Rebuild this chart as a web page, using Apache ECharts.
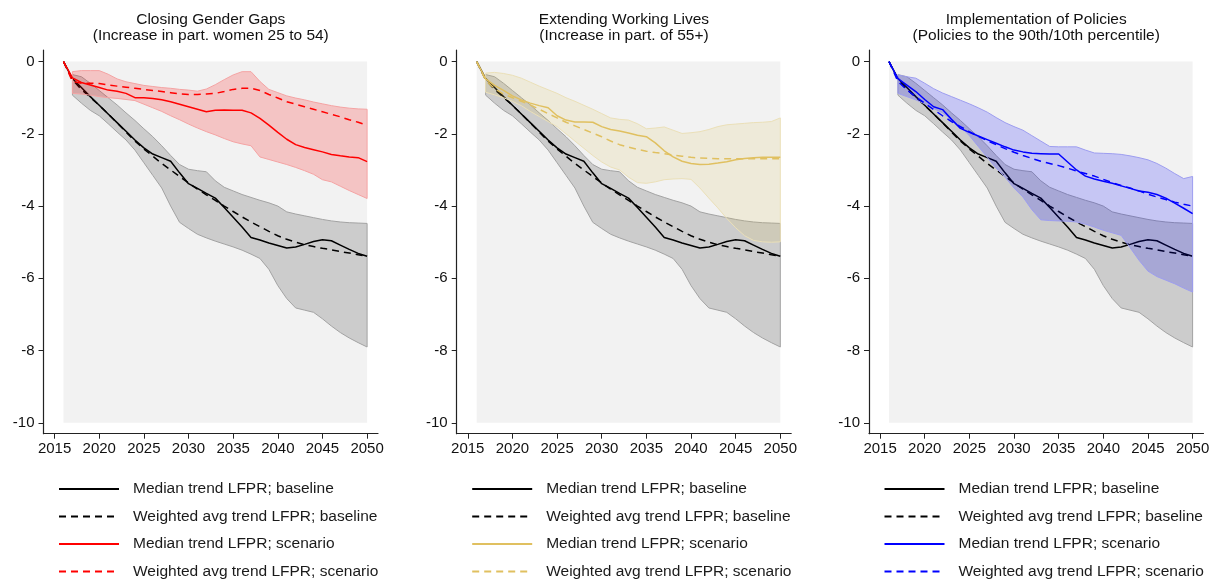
<!DOCTYPE html>
<html>
<head>
<meta charset="utf-8">
<script src="https://cdn.jsdelivr.net/npm/echarts@6/dist/echarts.min.js"></script>
<style>
  html, body { margin: 0; padding: 0; background: #fff; }
  #chart { width: 1210px; height: 580px; }
</style>
</head>
<body>
<div id="chart"></div>
<script>
const years = [2016, 2017, 2018, 2019, 2020, 2021, 2022, 2023, 2024, 2025,
  2026, 2027, 2028, 2029, 2030, 2031, 2032, 2033, 2034, 2035,
  2036, 2037, 2038, 2039, 2040, 2041, 2042, 2043, 2044, 2045,
  2046, 2047, 2048, 2049, 2050];
const xTicks = [2015, 2020, 2025, 2030, 2035, 2040, 2045, 2050];
const yTicks = [-10, -8, -6, -4, -2, 0];

// baseline (same in all three panels)
const baseMedian = [0, -0.47, -0.72, -0.97, -1.21, -1.45, -1.69, -1.93, -2.17, -2.39, -2.56, -2.66, -2.76, -3.08, -3.38, -3.51, -3.65, -3.78, -4.04, -4.31, -4.58, -4.87, -4.94, -5.02, -5.09, -5.16, -5.13, -5.06, -4.98, -4.93, -4.96, -5.08, -5.2, -5.31, -5.39];
const baseWavg = [0, -0.5, -0.77, -0.99, -1.21, -1.45, -1.7, -1.95, -2.2, -2.42, -2.62, -2.82, -3.0, -3.18, -3.36, -3.53, -3.69, -3.84, -4.0, -4.15, -4.3, -4.44, -4.57, -4.7, -4.82, -4.92, -5.0, -5.07, -5.12, -5.17, -5.21, -5.26, -5.3, -5.35, -5.39];
const baseHi = [null, -0.36, -0.42, -0.6, -0.8, -1.0, -1.2, -1.42, -1.63, -1.86, -2.08, -2.33, -2.6, -2.85, -2.98, -3.02, -3.05, -3.3, -3.48, -3.58, -3.68, -3.76, -3.84, -3.91, -4.0, -4.16, -4.22, -4.27, -4.32, -4.37, -4.41, -4.44, -4.46, -4.47, -4.48];
const baseLo = [null, -0.93, -1.15, -1.35, -1.5, -1.72, -1.95, -2.17, -2.45, -2.8, -3.15, -3.5, -4.0, -4.45, -4.62, -4.78, -4.88, -4.97, -5.05, -5.13, -5.22, -5.33, -5.45, -5.75, -6.2, -6.56, -6.82, -6.88, -6.94, -7.12, -7.32, -7.5, -7.65, -7.78, -7.9];

// scenario: closing gender gaps
const gapMedian = [0, -0.45, -0.58, -0.65, -0.72, -0.79, -0.82, -0.88, -1.0, -1.0, -1.02, -1.06, -1.11, -1.18, -1.25, -1.32, -1.39, -1.35, -1.34, -1.35, -1.35, -1.42, -1.57, -1.76, -1.96, -2.15, -2.3, -2.38, -2.44, -2.5, -2.57, -2.61, -2.64, -2.66, -2.77];
const gapWavg = [0, -0.55, -0.6, -0.6, -0.61, -0.65, -0.68, -0.71, -0.74, -0.77, -0.8, -0.83, -0.86, -0.89, -0.91, -0.91, -0.9, -0.88, -0.83, -0.77, -0.74, -0.74, -0.8, -0.91, -1.01, -1.11, -1.18, -1.25, -1.32, -1.39, -1.46, -1.53, -1.61, -1.68, -1.76];
const gapHi = [null, -0.28, -0.25, -0.25, -0.25, -0.35, -0.48, -0.56, -0.61, -0.66, -0.69, -0.72, -0.74, -0.77, -0.79, -0.82, -0.76, -0.64, -0.5, -0.37, -0.28, -0.28, -0.55, -0.77, -0.86, -0.95, -1.01, -1.06, -1.12, -1.17, -1.22, -1.26, -1.29, -1.31, -1.32];
const gapLo = [null, -0.88, -0.9, -0.93, -0.97, -1.0, -1.02, -1.05, -1.08, -1.18, -1.28, -1.38, -1.5, -1.61, -1.73, -1.84, -1.94, -2.03, -2.13, -2.22, -2.28, -2.33, -2.64, -2.71, -2.78, -2.85, -2.93, -3.02, -3.12, -3.27, -3.33, -3.45, -3.57, -3.68, -3.79];

// scenario: extending working lives
const oldMedian = [0, -0.48, -0.66, -0.8, -0.95, -1.06, -1.15, -1.22, -1.28, -1.5, -1.62, -1.67, -1.67, -1.68, -1.8, -1.88, -1.92, -1.98, -2.04, -2.08, -2.25, -2.47, -2.64, -2.76, -2.82, -2.85, -2.84, -2.81, -2.77, -2.72, -2.68, -2.66, -2.65, -2.65, -2.65];
const oldWavg = [0, -0.52, -0.75, -0.9, -1.0, -1.1, -1.2, -1.32, -1.44, -1.56, -1.68, -1.78, -1.88, -1.98, -2.08, -2.2, -2.3, -2.37, -2.43, -2.48, -2.52, -2.55, -2.59, -2.62, -2.65, -2.67, -2.68, -2.69, -2.69, -2.69, -2.69, -2.69, -2.69, -2.69, -2.69];
const oldHi = [null, -0.32, -0.3, -0.33, -0.38, -0.46, -0.57, -0.68, -0.78, -0.88, -1.0, -1.1, -1.21, -1.32, -1.44, -1.56, -1.6, -1.62, -1.72, -1.86, -1.84, -1.81, -1.9, -1.99, -1.97, -1.94, -1.88, -1.8, -1.75, -1.73, -1.71, -1.69, -1.68, -1.66, -1.56];
const oldLo = [null, -0.85, -0.92, -1.0, -1.1, -1.22, -1.38, -1.52, -1.66, -1.8, -2.0, -2.2, -2.4, -2.6, -2.78, -2.92, -3.0, -3.2, -3.35, -3.37, -3.33, -3.27, -3.25, -3.24, -3.26, -3.5, -3.78, -4.05, -4.34, -4.6, -4.82, -4.95, -4.99, -5.0, -4.99];

// scenario: implementation of policies
const polMedian = [0, -0.47, -0.65, -0.83, -1.05, -1.25, -1.33, -1.6, -1.85, -1.96, -2.06, -2.16, -2.26, -2.36, -2.45, -2.5, -2.54, -2.55, -2.56, -2.56, -2.78, -3.0, -3.17, -3.25, -3.31, -3.37, -3.44, -3.51, -3.58, -3.62, -3.68, -3.78, -3.92, -4.06, -4.21];
const polWavg = [0, -0.55, -0.78, -0.98, -1.15, -1.33, -1.5, -1.66, -1.8, -1.94, -2.07, -2.19, -2.3, -2.41, -2.51, -2.6, -2.68, -2.76, -2.82, -2.88, -2.95, -3.03, -3.1, -3.17, -3.26, -3.35, -3.43, -3.5, -3.58, -3.67, -3.75, -3.82, -3.89, -3.95, -4.0];
const polHi = [null, -0.37, -0.42, -0.46, -0.6, -0.75, -0.87, -0.97, -1.07, -1.17, -1.28, -1.4, -1.55, -1.69, -1.8, -1.9, -2.05, -2.2, -2.35, -2.36, -2.36, -2.36, -2.45, -2.53, -2.54, -2.55, -2.57, -2.61, -2.66, -2.72, -2.82, -2.95, -3.1, -3.24, -3.18];
const polLo = [null, -0.88, -0.97, -1.06, -1.17, -1.3, -1.42, -1.6, -1.8, -2.05, -2.35, -2.65, -2.95, -3.2, -3.5, -3.75, -4.1, -4.38, -4.4, -4.41, -4.42, -4.44, -4.5, -4.58, -4.67, -4.74, -4.81, -5.15, -5.5, -5.8, -5.95, -6.05, -6.15, -6.27, -6.38];

const legendNames = ['Median trend LFPR; baseline', 'Weighted avg trend LFPR; baseline',
  'Median trend LFPR; scenario', 'Weighted avg trend LFPR; scenario'];

const panels = [
  { left: 43.5, title: 'Closing Gender Gaps\n(Increase in part. women 25 to 54)',
    color: '#ff0000', fill: 'rgba(255,0,0,0.19)', edge: '#f5a3a3',
    med: gapMedian, wavg: gapWavg, hi: gapHi, lo: gapLo },
  { left: 456.7, title: 'Extending Working Lives\n(Increase in part. of 55+)',
    color: '#e0c060', fill: 'rgba(218,190,90,0.16)', edge: '#ebe0b8',
    med: oldMedian, wavg: oldWavg, hi: oldHi, lo: oldLo },
  { left: 869, title: 'Implementation of Policies\n(Policies to the 90th/10th percentile)',
    color: '#0000ff', fill: 'rgba(0,0,255,0.18)', edge: '#9d9df0',
    med: polMedian, wavg: polWavg, hi: polHi, lo: polLo }
];

const FONT = '"Liberation Sans", Arial, sans-serif';
const W = 334.5, TOP = 50, H = 383.7;

function pairs(arr) {
  return years.map((y, i) => [y, arr[i]]);
}

function band(idx, hi, lo, fill, edge, z) {
  return {
    type: 'custom', xAxisIndex: idx, yAxisIndex: idx, z: z, silent: true,
    data: [[2017, hi[1]]],
    renderItem: function (params, api) {
      const top = [], bottom = [];
      for (let i = 0; i < years.length; i++) {
        if (hi[i] == null) continue;
        top.push(api.coord([years[i], hi[i]]));
        bottom.unshift(api.coord([years[i], lo[i]]));
      }
      return {
        type: 'polygon',
        shape: { points: top.concat(bottom) },
        style: { fill: fill, stroke: edge, lineWidth: 1 }
      };
    }
  };
}

function line(idx, name, arr, color, dashed, z) {
  return {
    type: 'line', name: name, xAxisIndex: idx, yAxisIndex: idx, z: z,
    data: pairs(arr), symbol: 'none', silent: true,
    lineStyle: { color: color, width: 1.5, type: dashed ? [7, 5] : 'solid' },
    itemStyle: { color: color }
  };
}

const grid = [], xAxis = [], yAxis = [], title = [], legend = [], series = [];

panels.forEach((p, k) => {
  grid.push({ left: p.left, top: TOP, width: W, height: H, containLabel: false, outerBoundsMode: 'none' });
  xAxis.push({
    type: 'value', gridIndex: k, min: 2013.76, max: 2051.22,
    axisLine: { onZero: false, lineStyle: { color: '#222', width: 1.2 } },
    axisTick: { customValues: xTicks, length: 5, lineStyle: { color: '#222' } },
    axisLabel: { customValues: xTicks, margin: 8, fontSize: 15, color: '#111', fontFamily: FONT,
      formatter: v => String(v) },
    splitLine: { show: false }
  });
  yAxis.push({
    type: 'value', gridIndex: k, min: -10.3, max: 0.32,
    axisLine: { show: true, onZero: false, lineStyle: { color: '#222', width: 1.2 } },
    axisTick: { show: true, customValues: yTicks, length: 5, lineStyle: { color: '#222' } },
    axisLabel: { customValues: yTicks, margin: 9, fontSize: 15, color: '#111', fontFamily: FONT,
      formatter: v => String(v) },
    splitLine: { show: false }
  });
  title.push({
    text: p.title, left: p.left + W / 2, top: 12, textAlign: 'center', padding: 0,
    textStyle: { fontSize: 15.5, fontWeight: 'normal', color: '#111', lineHeight: 16, fontFamily: FONT }
  });

  const names = legendNames.map(n => n + '#' + k);
  legend.push({
    left: p.left + 14.5, top: 481, orient: 'vertical', padding: 0,
    itemWidth: 60, itemHeight: 16, itemGap: 11.5, selectedMode: false,
    itemStyle: { opacity: 0 },
    data: names,
    formatter: n => n.split('#')[0],
    textStyle: { fontSize: 15.5, color: '#1a1a1a', fontFamily: FONT, lineHeight: 16, padding: [0, 0, 0, 9] }
  });

  // plot region background
  series.push({
    type: 'line', xAxisIndex: k, yAxisIndex: k, z: 0, data: [], silent: true,
    markArea: {
      silent: true, itemStyle: { color: '#f2f2f2' },
      data: [[{ coord: [2016, 0] }, { coord: [2050, -10] }]]
    }
  });
  series.push(band(k, baseHi, baseLo, '#cccccc', '#a3a3a3', 1));
  series.push(line(k, names[0], baseMedian, '#000', false, 3));
  series.push(line(k, names[1], baseWavg, '#000', true, 3));
  series.push(band(k, p.hi, p.lo, p.fill, p.edge, 4));
  series.push(line(k, names[2], p.med, p.color, false, 5));
  series.push(line(k, names[3], p.wavg, p.color, true, 5));
});

const chart = echarts.init(document.getElementById('chart'));
chart.setOption({
  animation: false,
  backgroundColor: '#fff',
  title: title,
  legend: legend,
  grid: grid,
  xAxis: xAxis,
  yAxis: yAxis,
  series: series
});
</script>
</body>
</html>
